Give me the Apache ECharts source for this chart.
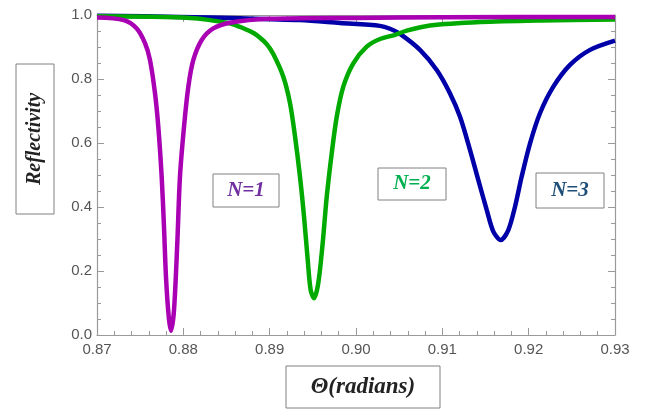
<!DOCTYPE html>
<html>
<head>
<meta charset="utf-8">
<script src="https://cdn.jsdelivr.net/npm/echarts@6/dist/echarts.min.js"></script>
<style>
html,body{margin:0;padding:0;background:#fff;}
#chart{width:646px;height:409px;}
</style>
</head>
<body>
<div id="chart"></div>
<script>
// ---- data ----
const thetaN1 = [0.870, 0.8731, 0.8746, 0.87556, 0.87614, 0.87672, 0.8771, 0.87749, 0.87776, 0.87799, 0.87831, 0.87857, 0.87892, 0.8793, 0.87961, 0.88008, 0.88058, 0.88115, 0.88213, 0.88347, 0.88541, 0.8900, 0.9000, 0.9100, 0.9300];
const reflN1  = [0.992, 0.984, 0.958, 0.912, 0.859, 0.755, 0.651, 0.495, 0.338, 0.182, 0.057, 0.013, 0.078, 0.287, 0.495, 0.651, 0.776, 0.859, 0.922, 0.958, 0.976, 0.988, 0.991, 0.993, 0.994];

const thetaN2 = [0.870, 0.8808, 0.8852, 0.88656, 0.88734, 0.88818, 0.88888, 0.88966, 0.89042, 0.89158, 0.89236, 0.89294, 0.89351, 0.89398, 0.89441, 0.89475, 0.89514, 0.89563, 0.89614, 0.89661, 0.89719, 0.89777, 0.89853, 0.89969, 0.90124, 0.90278, 0.90452, 0.90587, 0.90857, 0.91436, 0.92131, 0.9300];
const reflN2  = [0.996, 0.991, 0.975, 0.963, 0.954, 0.943, 0.929, 0.909, 0.878, 0.807, 0.724, 0.620, 0.495, 0.370, 0.234, 0.140, 0.115, 0.162, 0.287, 0.432, 0.568, 0.682, 0.776, 0.849, 0.901, 0.925, 0.938, 0.951, 0.967, 0.978, 0.983, 0.986];

const thetaN3 = [0.870, 0.8796, 0.88656, 0.89351, 0.89815, 0.90278, 0.90394, 0.9051, 0.90741, 0.90935, 0.91089, 0.91205, 0.91321, 0.91417, 0.91514, 0.91591, 0.91676, 0.91764, 0.91842, 0.91919, 0.92016, 0.92131, 0.92286, 0.92479, 0.92711, 0.9300];
const reflN3  = [0.998, 0.994, 0.990, 0.984, 0.975, 0.966, 0.957, 0.941, 0.891, 0.828, 0.755, 0.682, 0.578, 0.484, 0.391, 0.323, 0.297, 0.328, 0.401, 0.495, 0.599, 0.693, 0.776, 0.844, 0.891, 0.920];

const seriesNames = ['N=1', 'N=2', 'N=3'];
const xTicks = [0.87, 0.88, 0.89, 0.90, 0.91, 0.92, 0.93];
const yTicks = [0.0, 0.2, 0.4, 0.6, 0.8, 1.0];
const xTitle = 'Θ(radians)';
const yTitle = 'Reflectivity';

// ---- chart ----
const zip = (xs, ys) => xs.map((x, i) => [x, ys[i]]);
const chart = echarts.init(document.getElementById('chart'), null, {renderer: 'canvas'});

const axisGray = '#9a9a9a';
const labelGray = '#555';
const lblFont = 'Liberation Sans';

function xAxisCfg(pos, showLabel) {
  return {
    type: 'value', position: pos, min: xTicks[0], max: xTicks[xTicks.length - 1], interval: 0.01,
    axisLine: {show: true, onZero: false, lineStyle: {color: axisGray, width: 1.2}},
    axisTick: {show: true, inside: true, length: 7, lineStyle: {color: axisGray}},
    minorTick: {show: true, splitNumber: 5, length: 4, lineStyle: {color: axisGray}},
    splitLine: {show: false},
    axisLabel: {show: showLabel, margin: 7, color: labelGray, fontSize: 15, fontFamily: lblFont,
      formatter: v => v.toFixed(2)}
  };
}
function yAxisCfg(pos, showLabel) {
  return {
    type: 'value', position: pos, min: yTicks[0], max: yTicks[yTicks.length - 1], interval: 0.2,
    axisLine: {show: true, onZero: false, lineStyle: {color: axisGray, width: 1.2}},
    axisTick: {show: true, inside: true, length: 7, lineStyle: {color: axisGray}},
    minorTick: {show: true, splitNumber: 4, length: 4, lineStyle: {color: axisGray}},
    splitLine: {show: false},
    axisLabel: {show: showLabel, margin: 5, color: labelGray, fontSize: 15, fontFamily: lblFont,
      formatter: v => v.toFixed(1)}
  };
}

function labelBox(x1, y1, x2, y2, text, color, size, rotate) {
  return {
    type: 'group', children: [
      {type: 'rect', shape: {x: x1, y: y1, width: x2 - x1, height: y2 - y1},
        style: {fill: '#fff', stroke: '#808080', lineWidth: 1}, z: 10},
      {type: 'text', x: (x1 + x2) / 2, y: (y1 + y2) / 2, rotation: rotate || 0,
        style: {text: text, fill: color, font: 'italic bold ' + size + 'px "Liberation Serif", serif',
          align: 'center', verticalAlign: 'middle'}, z: 11}
    ]
  };
}

const lineCommon = {type: 'line', showSymbol: false, smooth: 0.3, xAxisIndex: 0, yAxisIndex: 0};

chart.setOption({
  animation: false,
  backgroundColor: '#fff',
  grid: {left: 97, right: 31, top: 15, bottom: 74, containLabel: false},
  xAxis: [xAxisCfg('bottom', true), xAxisCfg('top', false)],
  yAxis: [yAxisCfg('left', true), yAxisCfg('right', false)],
  series: [
    Object.assign({}, lineCommon, {name: seriesNames[2], data: zip(thetaN3, reflN3), z: 2,
      lineStyle: {color: '#0000a8', width: 4.5}}),
    Object.assign({}, lineCommon, {name: seriesNames[1], data: zip(thetaN2, reflN2), z: 3,
      lineStyle: {color: '#00aa00', width: 4.5}}),
    Object.assign({}, lineCommon, {name: seriesNames[0], data: zip(thetaN1, reflN1), z: 4,
      lineStyle: {color: '#aa00b4', width: 4.5}})
  ],
  graphic: [
    labelBox(16, 64, 54, 214, yTitle, '#222', 20, Math.PI / 2),
    labelBox(286, 366, 440, 408, xTitle, '#222', 23, 0),
    labelBox(213, 174, 279, 207, seriesNames[0], '#7030a0', 21, 0),
    labelBox(378, 168, 446, 200, seriesNames[1], '#00b050', 21, 0),
    labelBox(536, 173, 604, 208, seriesNames[2], '#1f4e79', 21, 0)
  ]
});
</script>
</body>
</html>
